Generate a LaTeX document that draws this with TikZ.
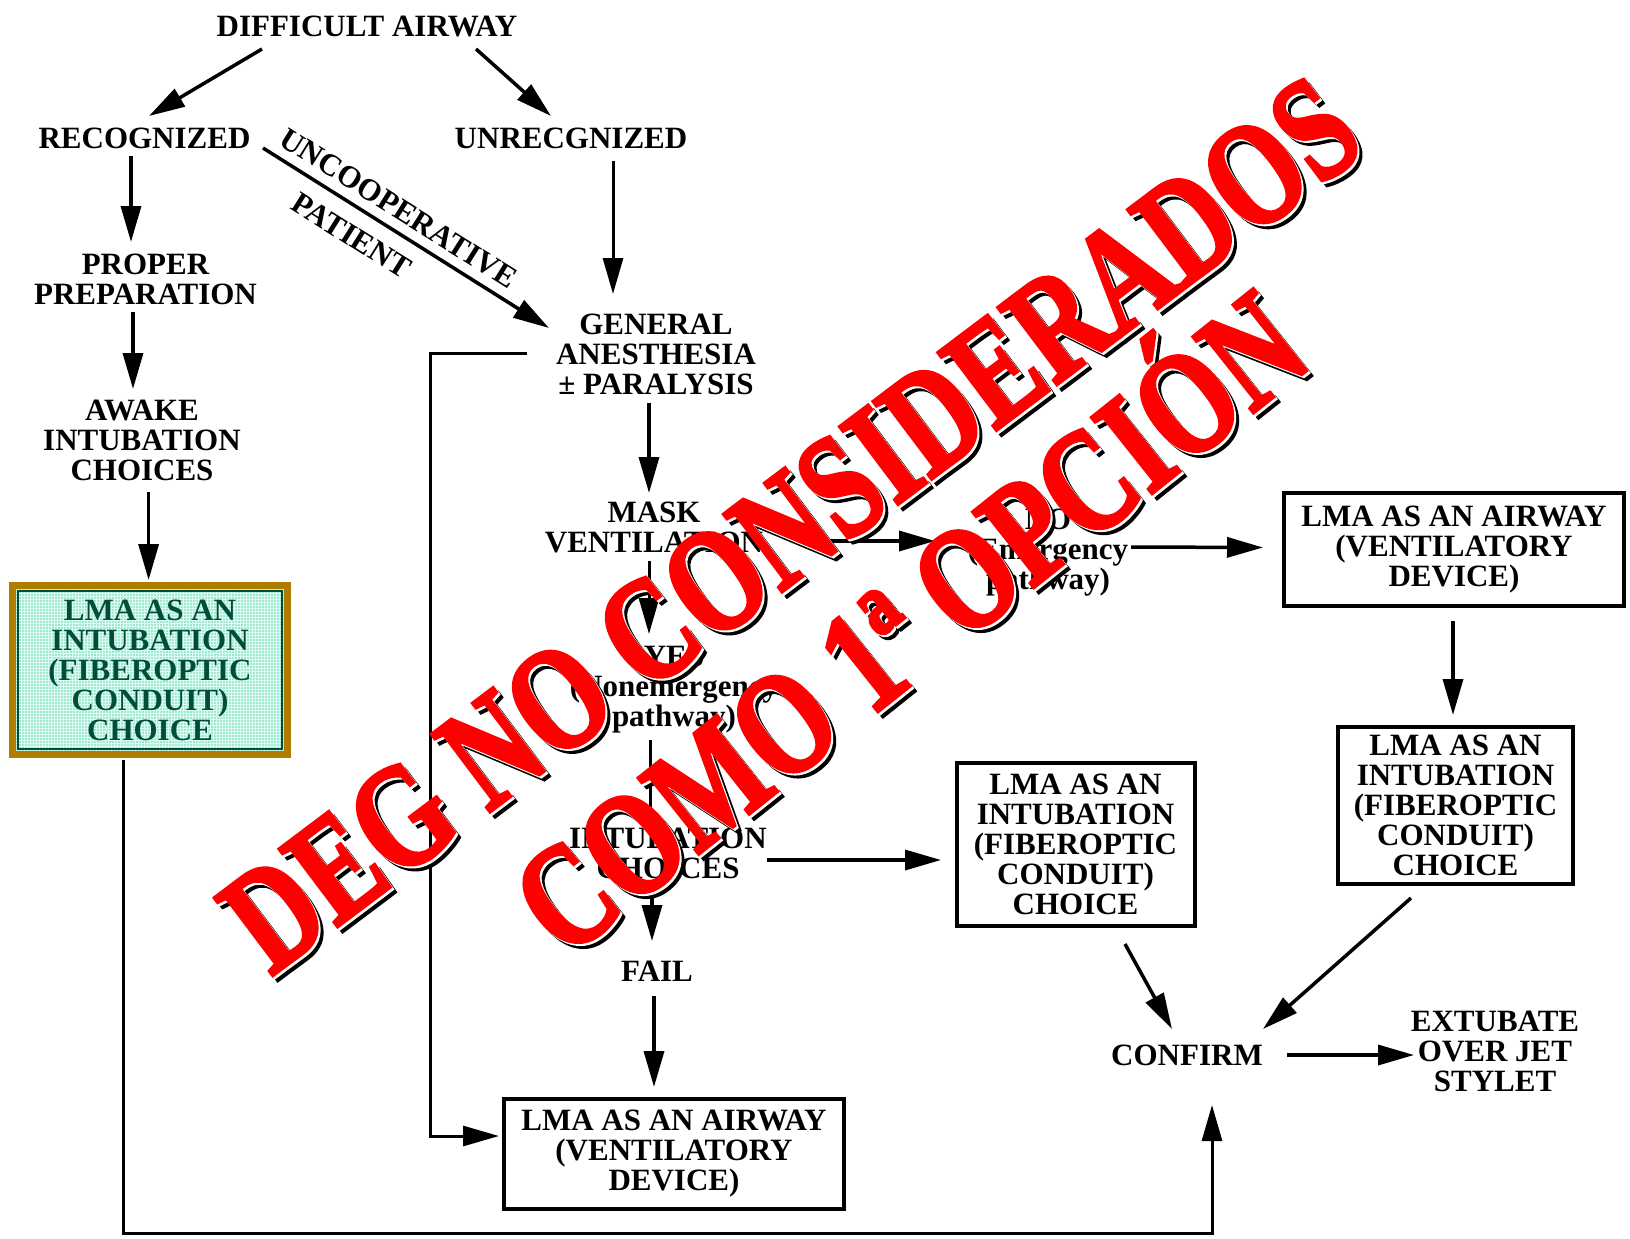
\documentclass[tikz,border=0pt]{standalone}
\usepackage{fontspec}
\setmainfont{Liberation Serif}
\newfontfamily\stampfont{Liberation Serif}[UprightFont=*-Bold, FakeBold=2.5]
\usetikzlibrary{arrows.meta,calc}
\definecolor{goldframe}{RGB}{176,124,0}
\definecolor{aquafill}{RGB}{160,232,210}
\definecolor{aquamesh}{RGB}{222,252,242}
\definecolor{conduitgreen}{RGB}{0,78,58}
\definecolor{stampred}{RGB}{255,0,0}
\tikzset{
  lbl/.style={font=\fontsize{31}{30}\selectfont\bfseries, align=center, inner sep=0pt},
  boxed/.style={lbl, draw, line width=4pt},
  arr/.style={line width=3.5pt, -{Triangle[length=36pt,width=20pt]}},
  link/.style={line width=3pt},
  stamp/.style={font=\stampfont\fontsize{148}{148}\selectfont, inner sep=0pt, anchor=base},
}
\newcommand{\stampA}{\scalebox{0.76}[1]{DEG NO CONSIDERADOS}}
\newcommand{\stampB}{\scalebox{0.76}[1]{COMO 1ª OPCIÓN}}
\begin{document}
\begin{tikzpicture}[x=1pt,y=-1pt]
\useasboundingbox (0,0) rectangle (1630,1239);
\fill[white] (0,0) rectangle (1630,1239);

% ---- nodes ----
\node[lbl] (diff)   at (367,26)  {DIFFICULT AIRWAY};
\node[lbl] (rec)    at (144.5,138) {RECOGNIZED};
\node[lbl] (unrec)  at (571,138) {UNRECGNIZED};
\node[lbl] (prep)   at (145.5,279) {PROPER\\PREPARATION};
\node[lbl] (awake)  at (142,440) {AWAKE\\INTUBATION\\CHOICES};
\node[lbl, text=conduitgreen, fill=aquafill, draw=goldframe, line width=7pt,
      minimum width=275pt, minimum height=169pt,
      path picture={
        \draw[aquamesh, line width=0.8pt, step=3pt]
          (path picture bounding box.south west) grid (path picture bounding box.north east);
        \draw[conduitgreen, line width=1.5pt]
          ($(path picture bounding box.south west)+(5.5,-5.5)$) rectangle
          ($(path picture bounding box.north east)+(-5.5,5.5)$);
      }] (green) at (150,670) {LMA AS AN\\INTUBATION\\(FIBEROPTIC\\CONDUIT)\\CHOICE};
\node[lbl] (gen)    at (656,354) {GENERAL\\ANESTHESIA\\± PARALYSIS};
\node[lbl] (mask)   at (654,527) {MASK\\VENTILATION};
\node[lbl] (no)     at (1048,553) {NO\\(Emergency\\pathway)};
\node[lbl] (yes)    at (674,690) {YES\\(Nonemergency\\pathway)};
\node[lbl] (intch)  at (668,853) {INTUBATION\\CHOICES};
\node[lbl] (fail)   at (657,971) {FAIL};
\node[boxed, minimum width=340pt, minimum height=110pt] (airB) at (674,1154)
  {LMA AS AN AIRWAY\\(VENTILATORY\\DEVICE)};
\node[boxed, minimum width=238pt, minimum height=163pt] (intM) at (1075.5,844.5)
  {LMA AS AN\\INTUBATION\\(FIBEROPTIC\\CONDUIT)\\CHOICE};
\node[boxed, minimum width=340pt, minimum height=113pt] (airR) at (1454,549.5)
  {LMA AS AN AIRWAY\\(VENTILATORY\\DEVICE)};
\node[boxed, minimum width=235pt, minimum height=157pt] (intR) at (1455.5,805.5)
  {LMA AS AN\\INTUBATION\\(FIBEROPTIC\\CONDUIT)\\CHOICE};
\node[lbl] (confirm) at (1187,1055) {CONFIRM};
\node[lbl] (ext)    at (1495,1051) {EXTUBATE\\OVER JET\\STYLET};

% ---- connectors ----
\draw[arr] ($(diff)+(-105,23)$) -- ($(rec)+(4.5,-22)$);
\draw[arr] ($(diff)+(109,23)$) -- ($(unrec)+(-20,-22)$);
\draw[arr] ($(rec)+(118.5,10)$)
  -- node[lbl, sloped, pos=0.435, above=9pt] (uncoop) {UNCOOPERATIVE}
     node[lbl, sloped, pos=0.36, below=15pt] (patient) {PATIENT}
  ($(gen)+(-107,-26)$);
\draw[arr, line width=3pt] ($(unrec)+(42,23)$) -- ($(gen)+(-43,-60)$);
\draw[arr] ($(rec)+(-13.5,18)$) -- ($(prep)+(-14.5,-37)$);
\draw[arr] ($(prep)+(-12.5,33)$) -- ($(awake)+(-9,-51)$);
\draw[arr] ($(awake)+(6.6,52)$) -- ($(green)+(-1.4,-90)$);
\draw[arr] ($(gen)+(-7,49)$) -- ($(mask)+(-5,-34)$);
\draw[arr, line width=3pt] ($(gen)+(-129,-1)$) -- ++(-97,0) |- ($(airB)+(-175,-18)$);
\draw[arr] ($(mask)+(146,14)$) -- ($(no)+(-113,-12)$);
\draw[arr] ($(no)+(83,-6)$) -- ($(airR.west)+(-19,-2)$);
\draw[arr, line width=3pt] ($(mask)+(-5,34)$) -- ($(yes)+(-25,-56)$);
\draw[link] ($(yes)+(-24,50)$) -- ($(intch)+(-18,-33)$);
\draw[arr] ($(intch)+(99,7)$) -- ($(intM.west)+(-13.5,15.5)$);
\draw[arr] ($(intch)+(-16,31)$) -- ($(fail)+(-5,-30)$);
\draw[arr] ($(fail)+(-3,25)$) -- ($(airB.north)+(-20,-10)$);
\draw[arr] ($(airR.south)+(-1,13)$) -- ($(intR.north)+(-2.5,-10)$);
\draw[arr] ($(intR.south)+(-44.5,12)$) -- ($(confirm)+(76,-26)$);
\draw[arr] ($(intM.south)+(49.5,16)$) -- ($(confirm)+(-15,-26)$);
\draw[arr] ($(confirm)+(100,0)$) -- ($(ext)+(-81,4)$);
\draw[arr, line width=3pt] ($(green.south)+(-27,2)$) -- ++(0,473) -| ($(confirm)+(25,50)$);

% ---- stamped notice across the chart: shadow, white rim, red face ----
\node[stamp, text=black, rotate=37] (wmAs) at ($(820,563)+(5,5)$) {\stampA};
\node[stamp, text=white, rotate=37] (wmAw) at ($(820,563)+(2,2)$) {\stampA};
\node[stamp, text=stampred, rotate=37] (wmA) at (820,563) {\stampA};
\node[stamp, text=black, rotate=38.5] (wmBs) at ($(940,662)+(5,5)$) {\stampB};
\node[stamp, text=white, rotate=38.5] (wmBw) at ($(940,662)+(2,2)$) {\stampB};
\node[stamp, text=stampred, rotate=38.5] (wmB) at (940,662) {\stampB};
\end{tikzpicture}
\end{document}
